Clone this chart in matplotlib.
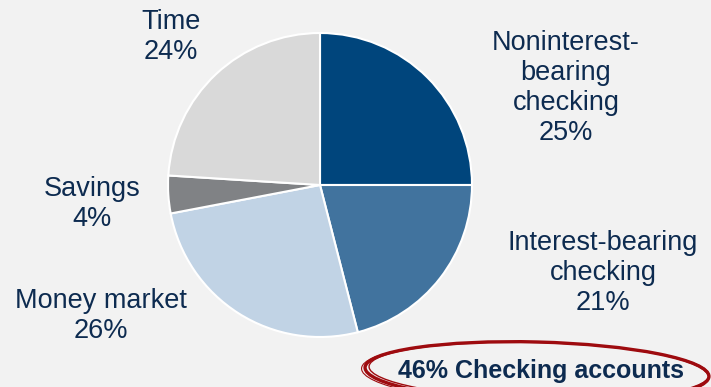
import matplotlib.pyplot as plt
from matplotlib.patches import Ellipse

plt.rcParams['font.family'] = ['Liberation Sans', 'DejaVu Sans']

labels = ['Noninterest-\nbearing\nchecking', 'Interest-bearing\nchecking',
          'Money market', 'Savings', 'Time']
shares = [25, 21, 26, 4, 24]
colors = ['#00457c', '#41739e', '#c1d3e5', '#808285', '#d9d9d9']
# label centres in pixel coords (x, y from top)
label_pos = [(566, 88), (603, 273), (101, 316), (92, 204), (171, 37)]
callout = '46% Checking accounts'

W, H = 711, 387
bg = '#f2f2f2'
txt = '#0d2b50'

fig = plt.figure(figsize=(W / 100, H / 100), dpi=100, facecolor=bg)
ax = fig.add_axes([0, 0, 1, 1])
ax.set_facecolor(bg)

ax.pie(shares, colors=colors, startangle=90, counterclock=False,
       center=(320, H - 185), radius=152,
       wedgeprops=dict(edgecolor='white', linewidth=1.5))

ax.set_xlim(0, W)
ax.set_ylim(0, H)
ax.set_aspect('equal')
ax.axis('off')

for lab, s, (x, y) in zip(labels, shares, label_pos):
    ax.text(x, H - y, f'{lab}\n{s}%', ha='center', va='center',
            fontsize=19.5, color=txt, linespacing=1.2)

# hand-drawn style red ring round the callout
for dx, dy, w, h, lw in [(0, 0, 344, 60, 2.4), (2, 1, 340, 57, 1.0),
                         (-2, -1, 347, 62, 0.8)]:
    ax.add_patch(Ellipse((537 + dx, H - 372 + dy), w, h, angle=-1.5,
                         fill=False, edgecolor='#9e0b0f', linewidth=lw))
ax.text(541, H - 371, callout, ha='center', va='center', fontsize=18,
        fontweight='bold', color=txt)

fig.savefig('out.png', dpi=100, facecolor=bg)
